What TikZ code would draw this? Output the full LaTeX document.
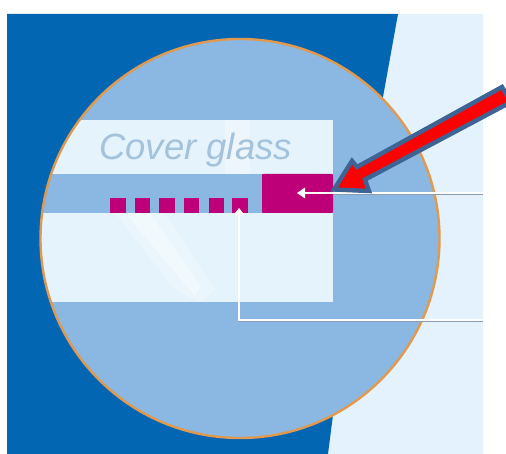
\documentclass[tikz,border=0pt]{standalone}
\usepackage{fontspec}
\setmainfont{Liberation Sans}
\definecolor{deep}{HTML}{0266B2}
\definecolor{pale}{HTML}{E3F2FC}
\definecolor{midblue}{HTML}{8AB8E3}
\definecolor{glass}{HTML}{E4F3FC}
\definecolor{magent}{HTML}{BE0078}
\definecolor{rim}{HTML}{E0994E}
\definecolor{inkblue}{HTML}{A3C2DC}
\definecolor{arrowedge}{HTML}{3D6494}
\definecolor{shade}{HTML}{8A9DB5}
\tikzset{
  leader/.style={draw=white,line width=2pt},
  leadershade/.style={draw=shade,line width=.8pt},
  chip/.style={fill=magent,draw=none},
}
\begin{document}
\begin{tikzpicture}[x=1pt,y=-1pt]
\useasboundingbox (0,0) rectangle (506,454);
\fill[white] (0,0) rectangle (506,454);
\fill[pale] (7,14) rectangle (483,454);
\fill[deep] (7,14) -- (398,14) -- (383,97) -- (333,415) -- (328,454) -- (7,454) -- cycle;
\fill[midblue] (240,238.5) circle[radius=199.5];
\begin{scope}
\clip (240,238.5) circle[radius=199.5];
\fill[glass] (40,120) rectangle (333,174);
\fill[glass] (40,213) rectangle (333,302);
\fill[white,opacity=.25] (115,213) -- (165,213) -- (215,290) -- (200,302) -- (175,290) -- cycle;
\fill[white,opacity=.4] (125,213) -- (150,213) -- (200,285) -- (195,296) -- cycle;
\fill[white,opacity=.3] (225,120) -- (250,120) -- (250,174) -- (225,174) -- cycle;
\end{scope}
\draw[rim,line width=2.4pt] (240,238.5) circle[radius=199.5];
\node[inkblue,font=\itshape\fontsize{36.5}{36.5}\selectfont,anchor=base west,inner sep=0pt] (cover) at (99,160) {Cover glass};
\fill[chip,rounded corners=.8pt] (262,174) rectangle (333,213);
\foreach \a/\b in {110/126,135/150,159/175,184/199,209/224,232/248}
  \fill[chip] (\a,198) rectangle (\b,213);
\coordinate (c1) at (483,193);
\coordinate (t1) at (303,193);
\coordinate (c2) at (483,320);
\coordinate (k2) at (239,320);
\coordinate (t2) at (239,214);
\draw[leadershade] ([yshift=-1.4pt]c1) -- ([yshift=-1.4pt]t1 -| 333,193);
\draw[leadershade] ([yshift=-1.4pt]c2) -- ([yshift=-1.4pt]k2) ;
\draw[leader] (c1) -- (t1);
\fill[white] (297,193) -- (305,187.5) -- (305,198.5) -- cycle;
\draw[leader] (c2) -- (k2) -- (t2);
\fill[white] (239,208) -- (233.5,215) -- (244.5,215) -- cycle;
\fill[red,draw=arrowedge,line width=4.4pt,line join=miter,miter limit=3]
  (334,189.5) -- (352,161) -- (357,167) -- (502,87) -- (511,102) -- (365,179.6) -- (369,191) -- cycle;
\end{tikzpicture}
\end{document}
